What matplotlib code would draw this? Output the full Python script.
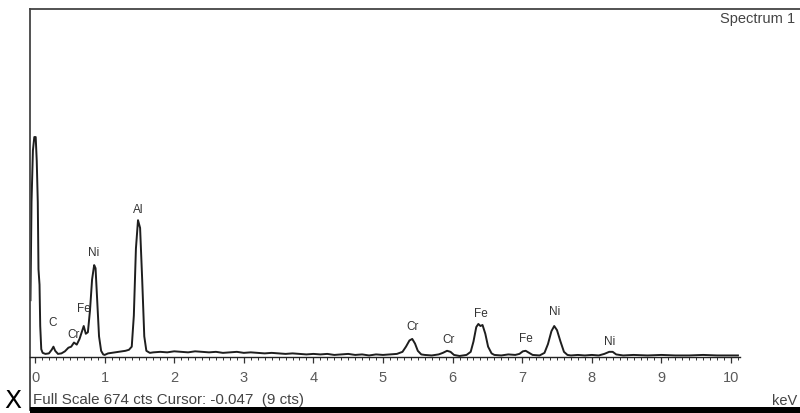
import matplotlib
matplotlib.use("Agg")
import matplotlib.pyplot as plt
from matplotlib.patches import Rectangle

plt.rcParams['font.family'] = ['Liberation Sans', 'DejaVu Sans']

# Spectrum (energy keV, counts)
energy = [-0.065, -0.05, -0.03, -0.01, 0.01, 0.025, 0.04, 0.05, 0.065, 0.075, 0.09, 0.11,
          0.15, 0.20, 0.24, 0.265, 0.29, 0.33, 0.38, 0.43, 0.48, 0.52, 0.56, 0.60, 0.64,
          0.68, 0.70, 0.73, 0.76, 0.79, 0.82, 0.85, 0.87, 0.89, 0.92, 0.95, 0.98, 1.00,
          1.05, 1.10, 1.15, 1.20, 1.25, 1.30, 1.35, 1.39, 1.42, 1.45, 1.48, 1.51, 1.54,
          1.57, 1.60, 1.65, 1.70, 1.80, 1.90, 2.00, 2.10, 2.20, 2.30, 2.40, 2.50, 2.60,
          2.70, 2.80, 2.90, 3.00, 3.10, 3.20, 3.30, 3.40, 3.50, 3.60, 3.70, 3.80, 3.90,
          4.00, 4.10, 4.20, 4.30, 4.40, 4.50, 4.60, 4.70, 4.80, 4.90, 5.00, 5.10, 5.20,
          5.28, 5.33, 5.38, 5.42, 5.46, 5.50, 5.55, 5.60, 5.70, 5.80, 5.86, 5.92, 5.97,
          6.02, 6.10, 6.20, 6.26, 6.30, 6.34, 6.37, 6.40, 6.43, 6.47, 6.51, 6.56, 6.60,
          6.70, 6.80, 6.90, 6.96, 7.01, 7.05, 7.10, 7.15, 7.25, 7.32, 7.37, 7.42, 7.46,
          7.50, 7.55, 7.60, 7.65, 7.70, 7.80, 7.90, 8.00, 8.10, 8.18, 8.25, 8.30, 8.35,
          8.45, 8.60, 8.80, 9.00, 9.20, 9.40, 9.60, 9.80, 10.00, 10.10]
counts = [110, 300, 400, 426, 426, 380, 300, 170, 140, 60, 15, 8,
          6, 7, 14, 20, 12, 6, 7, 11, 18, 20, 28, 24, 35,
          52, 60, 45, 48, 90, 150, 178, 172, 120, 40, 12, 5, 4,
          7, 8, 9, 10, 11, 12, 14, 20, 80, 210, 265, 250, 150,
          40, 12, 8, 9, 10, 9, 11, 10, 9, 11, 10, 9, 10,
          8, 9, 10, 8, 9, 8, 7, 8, 7, 6, 7, 6, 5,
          6, 5, 6, 4, 5, 6, 4, 5, 3, 5, 4, 5, 6,
          10, 20, 32, 35, 26, 12, 5, 4, 3, 5, 8, 12, 10,
          4, 2, 4, 10, 30, 58, 64, 60, 62, 45, 20, 7, 4,
          3, 5, 4, 6, 11, 12, 8, 4, 3, 8, 25, 50, 60,
          52, 30, 10, 4, 3, 4, 3, 4, 3, 6, 10, 10, 5,
          3, 4, 3, 4, 3, 3, 4, 3, 3, 3]

# Element labels
peak_labels = ['C', 'Cr', 'Fe', 'Ni', 'Al', 'Cr', 'Cr', 'Fe', 'Fe', 'Ni', 'Ni']
label_energy = [0.25, 0.55, 0.70, 0.84, 1.49, 5.42, 5.94, 6.40, 7.05, 7.47, 8.26]
label_counts = [68, 45, 95, 203, 287, 60, 35, 86, 37, 89, 31]

tick_values = [0, 1, 2, 3, 4, 5, 6, 7, 8, 9, 10]
full_scale = 674
cursor_text = 'Full Scale 674 cts Cursor: -0.047  (9 cts)'

W, H = 800, 414
fig = plt.figure(figsize=(W / 100, H / 100), dpi=100)
ax = fig.add_axes([30 / W, 3 / H, 1 - 30 / W, (411 - 10) / H])

xmin = -5 / 69.6
xmax = xmin + 770 / 69.6
cpp = full_scale / 348.0
ax.set_xlim(xmin, xmax)
ax.set_ylim(-53 * cpp, full_scale)

ax.plot(energy, counts, color='#1e1e1e', lw=1.4, solid_joinstyle='round')

for s, e, c in zip(peak_labels, label_energy, label_counts):
    ax.text(e, c, s, ha='center', va='center', fontsize=8.5, color='#333333')

ax.spines['bottom'].set_position(('data', 0))
ax.spines['bottom'].set_bounds(xmin, 10.13)
ax.spines['bottom'].set_color('#222222')
ax.spines['bottom'].set_linewidth(1.0)
for sp in ['left', 'top']:
    ax.spines[sp].set_color('#444444')
    ax.spines[sp].set_linewidth(1.3)
ax.spines['right'].set_visible(False)
ax.set_yticks([])
ax.set_xticks(tick_values)
ax.set_xticklabels([str(t) for t in tick_values])
ax.set_xticks([i / 10 for i in range(0, 102)], minor=True)
ax.tick_params(axis='x', which='major', direction='out', length=4.5, width=0.9,
               color='#333333', labelsize=10.5, labelcolor='#5a5a5a', pad=5)
ax.tick_params(axis='x', which='minor', direction='out', length=2.2, width=0.7,
               color='#333333')

fig.text(720 / W, 1 - 19 / H, 'Spectrum 1', fontsize=10.5, color='#444444',
         ha='left', va='center')
fig.text(33 / W, 1 - 400 / H, cursor_text, fontsize=10.9, color='#444444',
         ha='left', va='center')
fig.text(772 / W, 1 - 401 / H, 'keV', fontsize=10.5, color='#444444',
         ha='left', va='center')
fig.text(4 / W, 0.5 / H, 'X', fontsize=18, color='black', ha='left', va='bottom',
         family='DejaVu Sans')

fig.add_artist(Rectangle((30 / W, 0), 1 - 30 / W, 6 / H, transform=fig.transFigure,
                         color='black', lw=0))

fig.savefig('out.png', dpi=100)
